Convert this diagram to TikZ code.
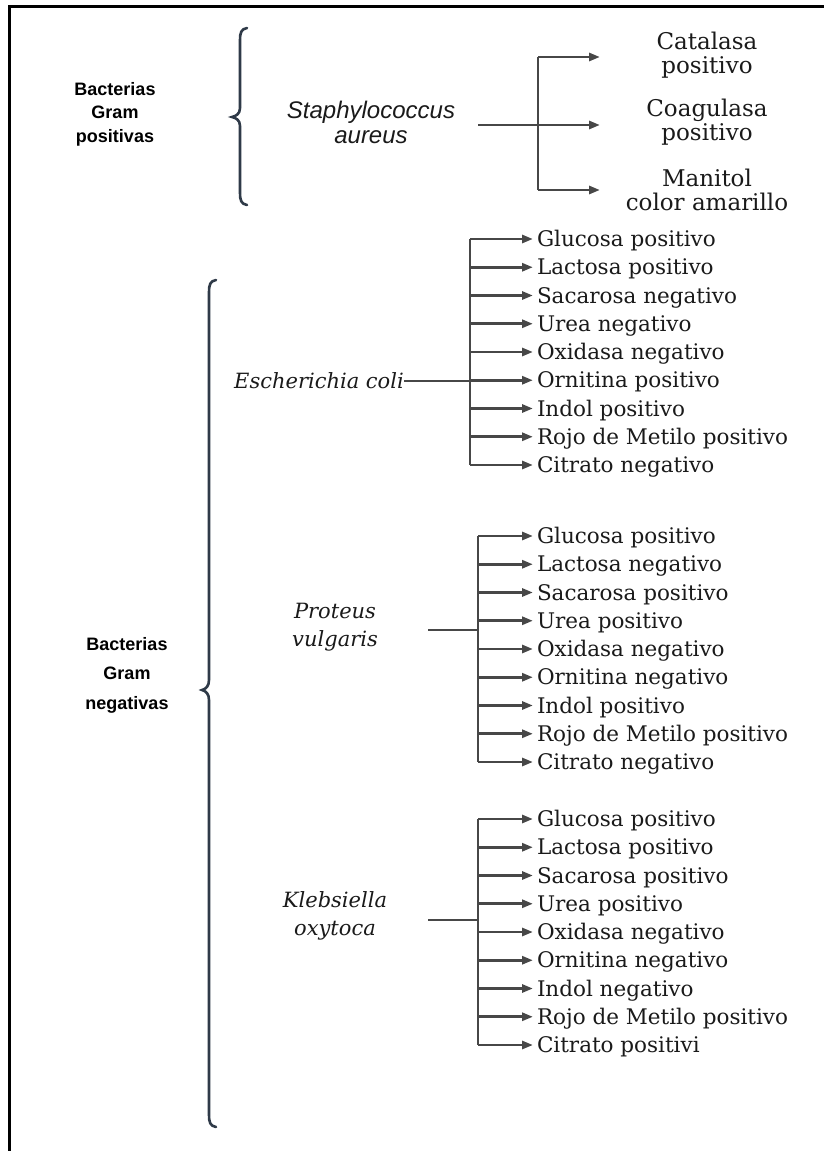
\documentclass[tikz,border=0pt]{standalone}
\usepackage{fontspec}
\setmainfont{DejaVu Serif}
\newfontfamily\arialf{Liberation Sans}
\usetikzlibrary{arrows.meta}
\definecolor{arrowgray}{HTML}{474747}
\definecolor{bracecol}{HTML}{2F3A48}
\definecolor{txt}{HTML}{1A1A1A}
\begin{document}
\begin{tikzpicture}[x=1pt,y=-1pt,
 lbl/.style={font=\fontsize{21.5}{24}\selectfont, text=txt, anchor=west, inner sep=0pt, outer sep=0pt, text height=15pt, text depth=0pt},
 toplbl/.style={font=\fontsize{23}{24.5}\selectfont, text=txt, align=center, inner sep=0pt},
 grp/.style={font=\arialf\bfseries\fontsize{18}{23.5}\selectfont, align=center, inner sep=0pt},
 grpneg/.style={font=\arialf\bfseries\fontsize{18}{29.5}\selectfont, align=center, inner sep=0pt},
 spsans/.style={font=\arialf\itshape\fontsize{24}{25}\selectfont, text=txt, align=center, inner sep=0pt},
 spser/.style={font=\itshape\fontsize{21}{28}\selectfont, text=txt, align=center, inner sep=0pt},
 conn/.style={draw=arrowgray, line width=2.8pt},
 arr/.style={conn, -{Triangle[length=11pt,width=8pt]}, shorten >=4pt},
 bracestyle/.style={draw=bracecol, line width=2.6pt, line cap=round},
 frame/.style={draw=black, line width=3pt},
]
\useasboundingbox (0,0) rectangle (824,1151);
\fill[white] (0,0) rectangle (824,1151);
% frame
\coordinate (fa) at (9,1151);
\coordinate (fb) at (9,6);
\coordinate (fc) at (824,6);
\draw[frame] (fa) -- (fb) -- (fc);

% ---------- Gram positive ----------
\node[grp] (gpos) at (115,114) {Bacterias\\Gram\\positivas};
\draw[bracestyle] (247,28) .. controls (241,29) and (240,33) .. (240,40) -- (240,108)
  .. controls (240,114) and (236,116) .. (232,117) .. controls (236,118) and (240,120) .. (240,126)
  -- (240,193) .. controls (240,200) and (241,204) .. (247,205);
\node[spsans] (staph) at (371,122) {Staphylococcus\\aureus};
\coordinate (sj) at (478,125);
\coordinate (sv) at (538,125);
\node[toplbl] (cat) at (707,55) {Catalasa\\positivo};
\node[toplbl] (coa) at (707,122) {Coagulasa\\positivo};
\node[toplbl] (man) at (707,190) {Manitol\\color amarillo};
\coordinate (cta) at (604,57);
\coordinate (ctb) at (604,125);
\coordinate (ctc) at (604,190);
\draw[conn] (sj) -- (sv);
\draw[conn] (sv |- cta) -- (sv |- ctc);
\draw[arr] (sv |- cta) -- (cta);
\draw[arr] (sv |- ctb) -- (ctb);
\draw[arr] (sv |- ctc) -- (ctc);

% ---------- Gram negative ----------
\node[grpneg] (gneg) at (127,675) {Bacterias\\Gram\\negativas};
\draw[bracestyle] (216,280) .. controls (210,281) and (209,285) .. (209,292) -- (209,680)
  .. controls (209,686) and (206,689) .. (202,690) .. controls (206,691) and (209,694) .. (209,700)
  -- (209,1115) .. controls (209,1122) and (210,1126) .. (216,1127);

% Escherichia coli
\node[spser, anchor=east] (eco) at (404,381) {Escherichia coli};
\coordinate (ev) at (470,381);
\foreach \t [count=\i] in {Glucosa positivo, Lactosa positivo, Sacarosa negativo, Urea negativo, Oxidasa negativo, Ornitina positivo, Indol positivo, Rojo de Metilo positivo, Citrato negativo}{
  \node[lbl] (e\i) at (537,{239+28.25*(\i-1)}) {\t};
  \draw[arr] (ev |- e\i.west) -- (e\i.west);
}
\draw[conn] (ev |- e1.west) -- (ev |- e9.west);
\draw[conn] (eco.east) -- (ev);

% Proteus vulgaris
\node[spser] (pro) at (335,627) {Proteus\\vulgaris};
\coordinate (pj) at (428,630);
\coordinate (pv) at (478,630);
\foreach \t [count=\i] in {Glucosa positivo, Lactosa negativo, Sacarosa positivo, Urea positivo, Oxidasa negativo, Ornitina negativo, Indol positivo, Rojo de Metilo positivo, Citrato negativo}{
  \node[lbl] (p\i) at (537,{536+28.25*(\i-1)}) {\t};
  \draw[arr] (pv |- p\i.west) -- (p\i.west);
}
\draw[conn] (pv |- p1.west) -- (pv |- p9.west);
\draw[conn] (pj) -- (pv);

% Klebsiella oxytoca
\node[spser] (kle) at (335,916) {Klebsiella\\oxytoca};
\coordinate (kj) at (428,920);
\coordinate (kv) at (478,920);
\foreach \t [count=\i] in {Glucosa positivo, Lactosa positivo, Sacarosa positivo, Urea positivo, Oxidasa negativo, Ornitina negativo, Indol negativo, Rojo de Metilo positivo, Citrato positivi}{
  \node[lbl] (k\i) at (537,{819+28.25*(\i-1)}) {\t};
  \draw[arr] (kv |- k\i.west) -- (k\i.west);
}
\draw[conn] (kv |- k1.west) -- (kv |- k9.west);
\draw[conn] (kj) -- (kv);
\end{tikzpicture}
\end{document}
